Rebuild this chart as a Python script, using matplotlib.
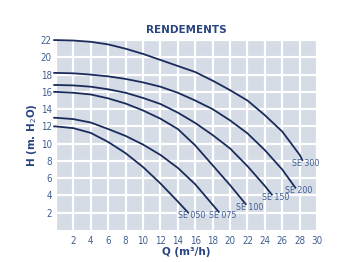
import matplotlib
matplotlib.use('Agg')
import matplotlib.pyplot as plt

# values (Q in m3/h, H in m H2O)
se300_q = [0, 2, 4, 6, 8, 10, 12, 14, 16, 18, 20, 22, 24, 26, 28, 28.3]
se300_h = [22.0, 21.95, 21.8, 21.5, 21.0, 20.4, 19.7, 19.0, 18.3, 17.3, 16.2, 15.0, 13.3, 11.4, 8.7, 8.1]

se200_q = [0, 2, 4, 6, 8, 10, 12, 14, 16, 18, 20, 22, 24, 26, 27.5]
se200_h = [18.2, 18.15, 18.0, 17.8, 17.5, 17.1, 16.6, 15.9, 15.0, 14.0, 12.7, 11.2, 9.25, 7.0, 4.9]

se150_q = [0, 2, 4, 6, 8, 10, 12, 14, 16, 18, 20, 22, 24, 24.8]
se150_h = [16.8, 16.75, 16.6, 16.3, 15.9, 15.3, 14.6, 13.6, 12.4, 11.0, 9.45, 7.4, 5.1, 4.1]

se100_q = [0, 2, 4, 6, 8, 10, 12, 14, 16, 18, 20, 21.8]
se100_h = [16.0, 15.9, 15.7, 15.25, 14.65, 13.85, 12.9, 11.7, 9.8, 7.5, 5.2, 3.0]

se075_q = [0, 2, 4, 6, 8, 10, 12, 14, 16, 18.7]
se075_h = [13.0, 12.85, 12.45, 11.7, 10.9, 9.9, 8.7, 7.2, 5.3, 2.1]

se050_q = [0, 2, 4, 6, 8, 10, 12, 14, 15.2]
se050_h = [12.0, 11.8, 11.25, 10.2, 8.9, 7.3, 5.4, 3.3, 2.0]

curves = [
    ('SE 300', se300_q, se300_h),
    ('SE 200', se200_q, se200_h),
    ('SE 150', se150_q, se150_h),
    ('SE 100', se100_q, se100_h),
    ('SE 075', se075_q, se075_h),
    ('SE 050', se050_q, se050_h),
]

x_ticks = list(range(2, 31, 2))
y_ticks = list(range(2, 23, 2))

line_color = '#1b2c5c'
label_color = '#3f5e93'
title_color = '#2a4680'

fig = plt.figure(figsize=(3.37, 2.62), dpi=100)
ax = fig.add_axes([0.166, 0.122, 0.775, 0.725])
ax.set_facecolor('#d5dce6')

ax.set_xlim(0, 30)
ax.set_ylim(0, 22)
ax.set_xticks(x_ticks)
ax.set_yticks(y_ticks)
# extra grid line at x = 0 without a label
ax.set_xticks([0], minor=True)
ax.grid(True, which='both', color='white', linewidth=1.6)
ax.set_axisbelow(True)
ax.tick_params(which='both', length=0, labelcolor=label_color)
ax.tick_params(axis='x', pad=4)
ax.tick_params(axis='y', pad=3)
for lab in ax.get_xticklabels() + ax.get_yticklabels():
    lab.set_fontstretch('condensed')
    lab.set_fontsize(7)
for s in ax.spines.values():
    s.set_visible(False)

for name, q, h in curves:
    ax.plot([-0.2] + q, [h[0]] + h, color=line_color, linewidth=1.3, clip_on=False)
    ax.text(q[-1] + 0.4, h[-1] + 0.15, name, ha='center', va='top',
            fontstretch='condensed', fontsize=6.3, color=label_color)

ax.set_title('RENDEMENTS', fontsize=7.5, fontweight='bold', color=title_color, pad=5)
ax.set_xlabel('Q (m³/h)', fontsize=7.5, fontweight='bold', color=title_color, labelpad=1)
ax.set_ylabel('H (m. H$_2$O)', fontsize=7.5, fontweight='bold', color=title_color, labelpad=1)

plt.savefig('out.png', dpi=100)
